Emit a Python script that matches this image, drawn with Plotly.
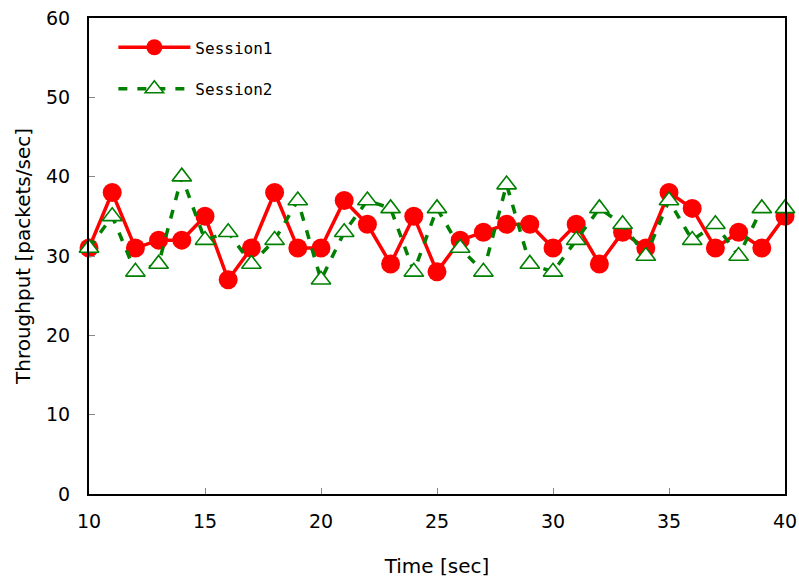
import plotly.graph_objects as go

time_sec = list(range(10, 41))
session1 = [31, 38, 31, 32, 32, 35, 27, 31, 38, 31, 31, 37, 34, 29, 35, 28,
            32, 33, 34, 34, 31, 34, 29, 33, 31, 38, 36, 31, 33, 31, 35]
session2 = [31, 35, 28, 29, 40, 32, 33, 29, 32, 37, 27, 33, 37, 36, 28, 36,
            31, 28, 39, 29, 28, 32, 36, 34, 30, 37, 32, 34, 30, 36, 36]

x_ticks = [10, 15, 20, 25, 30, 35, 40]
y_ticks = [0, 10, 20, 30, 40, 50, 60]

font_family = "DejaVu Sans, sans-serif"
legend_font = "DejaVu Sans Mono, monospace"

fig = go.Figure()
fig.add_trace(go.Scatter(
    x=time_sec, y=session1, name="Session1", mode="lines+markers",
    line=dict(color="#ff0000", width=3.5),
    marker=dict(symbol="circle", size=19, color="#ff0000"),
    cliponaxis=False, legend="legend",
))
fig.add_trace(go.Scatter(
    x=time_sec, y=session2, name="Session2", mode="lines+markers",
    line=dict(color="#008000", width=3.5, dash="9px,10px"),
    marker=dict(symbol="triangle-up", size=17, color="white",
                line=dict(color="#008000", width=1.6)),
    cliponaxis=False, legend="legend2",
))

axis_common = dict(
    showline=True, linecolor="black", linewidth=2, mirror=True,
    showgrid=False, zeroline=False, ticks="inside", ticklen=6,
    tickcolor="#888888", tickwidth=1, automargin=False,
    tickfont=dict(family=font_family, size=19, color="black"),
)

fig.update_layout(
    width=799, height=582,
    margin=dict(l=89, r=14, t=18, b=88, autoexpand=False),
    paper_bgcolor="white", plot_bgcolor="white",
    showlegend=True,
    xaxis=dict(range=[10, 40], tickvals=x_ticks, ticklabelstandoff=9,
               title=dict(text="Time [sec]", standoff=28,
                          font=dict(family=font_family, size=20, color="black")),
               **axis_common),
    yaxis=dict(range=[0, 60], tickvals=y_ticks, ticklabelstandoff=13,
               title=dict(text="Throughput [packets/sec]", standoff=10,
                          font=dict(family=font_family, size=20, color="black")),
               **axis_common),
    legend=dict(x=0.035, y=0.974, xanchor="left", yanchor="top", itemwidth=72,
                bgcolor="rgba(0,0,0,0)", font=dict(family=legend_font, size=16, color="black")),
    legend2=dict(x=0.035, y=0.887, xanchor="left", yanchor="top", itemwidth=72,
                 bgcolor="rgba(0,0,0,0)", font=dict(family=legend_font, size=16, color="black")),
)

fig.write_html("out.html")
